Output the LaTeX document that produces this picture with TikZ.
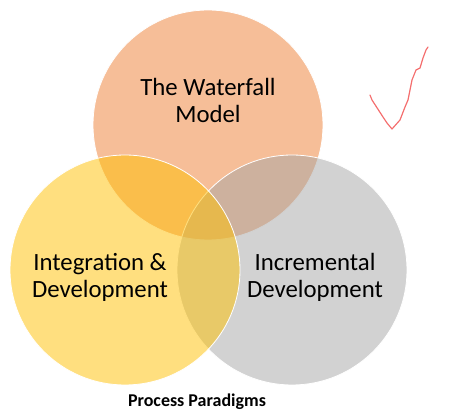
\documentclass[tikz,border=0pt]{standalone}
\usepackage{fontspec}
\setmainfont{Carlito}
\usepackage{xcolor}
\usepackage{tikz}
\usetikzlibrary{shapes,positioning}

\definecolor{wforange}{HTML}{ED7D31}
\definecolor{idyellow}{HTML}{FFC000}
\definecolor{incgray}{HTML}{A5A5A5}
\definecolor{tickred}{HTML}{F25555}

\begin{document}
\begin{tikzpicture}[x=1pt, y=-1pt, every node/.style={font=\fontsize{24.8}{27}\selectfont}]

    % Styles for the three paradigm circles
    \tikzset{
        venn/.style={circle, minimum size=230pt, inner sep=0pt, fill opacity=0.5, draw=white, draw opacity=1, line width=0.8pt},
        venntext/.style={align=center, text=black, inner sep=0pt},
        caption/.style={font=\fontsize{18}{21}\selectfont\bfseries, text=black, inner sep=0pt}
    }

    % Fix the page to the reference size
    \useasboundingbox (0,0) rectangle (467,417);

    % Circles (drawn in overlap order)
    \node[venn, fill=wforange] (waterfall) at (208,125) {};
    \node[venn, fill=incgray] (incremental) at (292,270) {};
    \node[venn, fill=idyellow] (integration) at (125,270) {};

    % Circle labels (base = last line)
    \node[venntext, anchor=base] (waterfalltext) at (208,123) {The Waterfall\\Model};
    \node[venntext, anchor=base] (integrationtext) at (100,298) {Integration \&\\Development};
    \node[venntext, anchor=base] (incrementaltext) at (315,298) {Incremental\\Development};

    % Caption
    \node[caption, anchor=base] (paradigms) at (197,407) {Process Paradigms};

    % Hand-drawn tick mark
    \draw[tickred, line width=1.2pt, line join=round, line cap=round, opacity=0.85]
        (370,95) -- (372,100) -- (383,117) -- (387,123) -- (392,129) -- (400,120)
        -- (405,107) -- (408,100) -- (412,80) -- (416,70) -- (420,68) -- (423,58)
        -- (426,50) -- (428,47);

\end{tikzpicture}
\end{document}
